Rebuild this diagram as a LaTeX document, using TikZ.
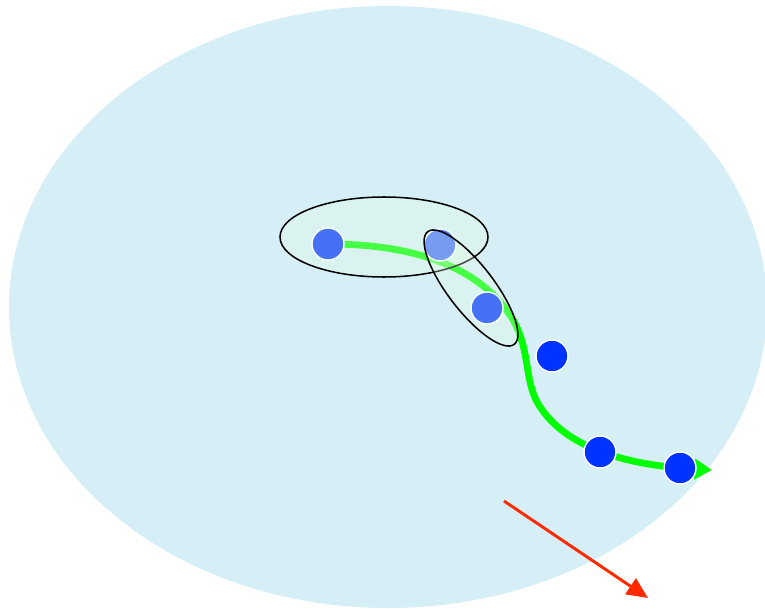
\documentclass[tikz,border=0pt]{standalone}
\usetikzlibrary{arrows.meta,backgrounds}
\definecolor{fondbleu}{RGB}{214,239,246}
\definecolor{pointbleu}{RGB}{0,51,255}
\definecolor{voile}{RGB}{232,255,228}
\definecolor{trace}{RGB}{0,255,0}
\definecolor{fleche}{RGB}{255,42,0}
\begin{document}
\begin{tikzpicture}[x=0.03cm,y=0.03cm,
    point/.style={circle, fill=pointbleu, draw=white, line width=1.2pt, minimum size=0.96cm, inner sep=0pt},
    groupe/.style={draw=black, line width=1.3pt, fill=voile, fill opacity=0.3, draw opacity=1},
    trajet/.style={draw=trace, line width=5.8pt, -{Triangle[length=15pt,width=17pt]}},
    vitesse/.style={draw=fleche, line width=2.5pt, -{Triangle[length=18pt,width=16pt]}}]
        \clip (0,0) rectangle (765,608);
        
        % Points de la trajectoire
        \coordinate (fin) at (712,138);
        \node[point] (p1) at (328,364) {};
        \node[point] (p2) at (440,363) {};
        \node[point] (p3) at (487,300) {};
        \node[point] (p4) at (552,252) {};
        \node[point] (p5) at (600,156) {};
        \node[point] (p6) at (680,140) {};
        
        % Fond et trajectoire verte (sous les points)
        \begin{pgfonlayer}{background}
        \fill[fondbleu] (388,301) ellipse (379 and 301);
        \draw[trajet] (p1.center) .. controls (420,364) and (480,338) .. (510,293)
            .. controls (530,263) and (524,233) .. (536,208)
            .. controls (560,163) and (620,143) .. (fin);
        \end{pgfonlayer}
        
        % Regroupements
        \draw[groupe] (384,371) ellipse (104 and 40);
        \draw[groupe, rotate around={-52.5:(471,320)}] (471,320) ellipse (71 and 23);
        
        % Fleche rouge
        \coordinate (depart) at (504,107);
        \coordinate (arrivee) at (648,10);
        \draw[vitesse] (depart) -- (arrivee);
\end{tikzpicture}
\end{document}
